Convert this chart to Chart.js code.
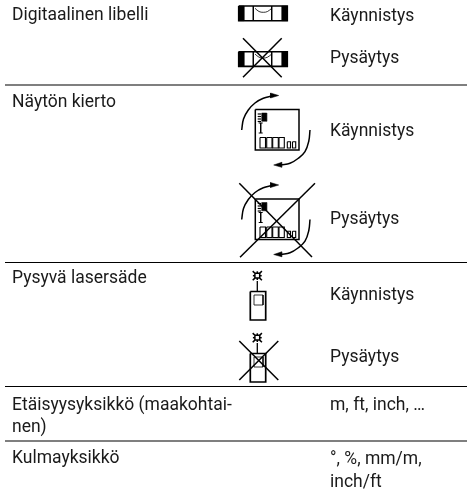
<!DOCTYPE html>
<html>
<head>
<meta charset="utf-8">
<title>Toiminnot</title>
<script src="https://cdn.jsdelivr.net/npm/chart.js"></script>
<style>
    html, body { margin: 0; padding: 0; background: #fff; }
    canvas { display: block; }
</style>
</head>
<body>
<canvas id="tableChart" width="467" height="492"></canvas>
<script>
// Table text
const featureLabels = ['Digitaalinen libelli', 'Näytön kierto', 'Pysyvä lasersäde', 'Etäisyysyksikkö (maakohtai-', 'nen)', 'Kulmayksikkö'];
const featureBaselines = [20, 106.7, 283, 409.5, 432, 463];
const stateLabels = ['Käynnistys', 'Pysäytys', 'Käynnistys', 'Pysäytys', 'Käynnistys', 'Pysäytys', 'm, ft, inch, …', '°, %, mm/m,', 'inch/ft'];
const stateBaselines = [21.3, 63.3, 136, 224, 300, 362, 409.5, 464, 487.3];
const featureColumn = 12;
const stateColumn = 330;
const rulePositions = [85, 262.5, 386.5, 441];
const ruleExtent = [5, 467];

// Icon parts, in the same units as the axes
const levelOutline = [238.7, 6, 287.3, 20.7];
const levelBlocks = [[238.7, 6, 244, 20.7], [281.7, 6, 287.3, 20.7]];
const levelDividers = [253.3, 271.7];
const levelBubble = [[255, 8.3], [259, 11.5], [263.3, 12.3], [267.5, 11.5], [271.7, 8.3]];
const levelOffOffset = 45.7;
const levelCross = [[[243, 38.3], [281.7, 77.3]], [[281.7, 38.3], [243, 77.3]]];

const screenOutline = [255.3, 109.5, 299, 150];
const screenDigits = [[260, 137.5, 265.5, 148], [266.7, 137.5, 272, 148], [272.7, 137.5, 278.3, 148], [279, 137.5, 284.3, 148], [287.3, 141.7, 290.5, 148], [292.5, 141.7, 295.7, 148]];
const screenBattery = [261.7, 113, 266.7, 121.3];
const screenDashes = [114, 116.5, 119, 121.5];
const screenCursor = [[[260.7, 123], [260.7, 133]], [[258.7, 123], [262.7, 123]], [[258.7, 133], [262.7, 133]]];
const arcUpper = [[241.7, 130], [243.5, 119], [248.3, 110], [255, 103], [263.3, 98.3], [272, 96]];
const arrowUpper = [[278.7, 95.5], [270.5, 93], [270.5, 98]];
const arcLower = [[310, 130], [308.8, 141], [305, 151.7], [298, 158.5], [290, 163.3], [281, 164.8]];
const arrowLower = [[273.7, 165], [281.7, 162.3], [281.7, 167.3]];
const rotateOffOffset = 89.5;
const rotateCross = [[[239.3, 183.3], [312, 257]], [[315, 183.3], [240, 257.3]]];

const deviceStarCentre = [257.3, 275.7];
const deviceStarBox = [-2.4, -2.4, 2.4, 2.4];
const deviceStarRays = [[[-2.4, -2.4], [-4.6, -4.6]], [[2.4, -2.4], [4.6, -4.6]], [[-2.4, 2.4], [-4.6, 4.6]], [[2.4, 2.4], [4.6, 4.6]], [[0, -2.4], [0, -4.4]], [[0, 2.4], [0, 4.4]], [[-2.4, 0], [-4.4, 0]], [[2.4, 0], [4.4, 0]]];
const deviceStem = [[257.3, 281], [257.3, 291.5]];
const deviceBody = [250.3, 291.5, 265.7, 320];
const deviceWindow = [254, 295, 263, 305];
const deviceOffOffset = 62;
const deviceCross = [[[239.3, 341], [278.3, 380]], [[278.3, 341], [239.3, 380]]];

function toPoints(pairs, dy = 0) {
    return pairs.map(([x, y]) => ({ x: x, y: y + dy }));
}

function rectPairs([x0, y0, x1, y1]) {
    return [[x0, y0], [x1, y0], [x1, y1], [x0, y1], [x0, y0]];
}

function stroke(pairs, dy, width, tension = 0) {
    return {
        data: toPoints(pairs, dy),
        showLine: true,
        borderColor: '#000',
        borderWidth: width,
        pointRadius: 0,
        tension: tension,
        fill: false,
        clip: false
    };
}

function solid(pairs, dy) {
    return {
        data: toPoints(pairs, dy),
        showLine: true,
        borderColor: '#000',
        backgroundColor: '#000',
        borderWidth: 0.5,
        pointRadius: 0,
        fill: 'shape',
        clip: false
    };
}

function levelIcon(dy) {
    const parts = [stroke(rectPairs(levelOutline), dy, 1.6)];
    levelBlocks.forEach(block => parts.push(solid(rectPairs(block), dy)));
    levelDividers.forEach(x => parts.push(stroke([[x, levelOutline[1]], [x, levelOutline[3]]], dy, 1)));
    parts.push(stroke(levelBubble, dy, 0.8, 0.4));
    return parts;
}

function rotateIcon(dy) {
    const parts = [stroke(rectPairs(screenOutline), dy, 1.5)];
    screenDigits.forEach(digit => parts.push(stroke(rectPairs(digit), dy, 1.1)));
    parts.push(solid(rectPairs(screenBattery), dy));
    screenDashes.forEach(y => parts.push(stroke([[257.7, y], [261, y]], dy, 1.2)));
    screenCursor.forEach(line => parts.push(stroke(line, dy, 1)));
    parts.push(stroke(arcUpper, dy, 1.5, 0.4));
    parts.push(solid(arrowUpper.concat([arrowUpper[0]]), dy));
    parts.push(stroke(arcLower, dy, 1.5, 0.4));
    parts.push(solid(arrowLower.concat([arrowLower[0]]), dy));
    return parts;
}

function deviceIcon(dy) {
    const [cx, cy] = deviceStarCentre;
    const box = [cx + deviceStarBox[0], cy + deviceStarBox[1], cx + deviceStarBox[2], cy + deviceStarBox[3]];
    const parts = [stroke(rectPairs(box), dy, 1.5)];
    deviceStarRays.forEach(ray => {
        parts.push(stroke(ray.map(([x, y]) => [cx + x, cy + y]), dy, 1.5));
    });
    parts.push(stroke(deviceStem, dy, 1.3));
    parts.push(stroke(rectPairs(deviceBody), dy, 1.7));
    parts.push(stroke(rectPairs(deviceWindow), dy, 0.8));
    return parts;
}

function crossLines(lines) {
    return lines.map(line => stroke(line, 0, 1.5));
}

const datasets = [
    ...rulePositions.map(y => stroke([[ruleExtent[0], y], [ruleExtent[1], y]], 0, 1.2)),
    ...levelIcon(0),
    ...levelIcon(levelOffOffset),
    ...crossLines(levelCross),
    ...rotateIcon(0),
    ...rotateIcon(rotateOffOffset),
    ...crossLines(rotateCross),
    ...deviceIcon(0),
    ...deviceIcon(deviceOffOffset),
    ...crossLines(deviceCross)
];

// Table text is drawn through the same scales as the icons
const tableText = {
    id: 'tableText',
    afterDatasetsDraw(chart) {
        const { ctx, scales } = chart;
        ctx.save();
        ctx.fillStyle = '#1a1a1a';
        ctx.font = '17.5px Roboto';
        ctx.textBaseline = 'alphabetic';
        featureLabels.forEach((label, i) => {
            ctx.fillText(label, scales.x.getPixelForValue(featureColumn), scales.y.getPixelForValue(featureBaselines[i]));
        });
        stateLabels.forEach((label, i) => {
            ctx.fillText(label, scales.x.getPixelForValue(stateColumn), scales.y.getPixelForValue(stateBaselines[i]));
        });
        ctx.restore();
    }
};

new Chart(document.getElementById('tableChart').getContext('2d'), {
    type: 'scatter',
    data: { datasets: datasets },
    options: {
        responsive: false,
        animation: false,
        layout: { padding: 0, autoPadding: false },
        plugins: {
            legend: { display: false },
            tooltip: { enabled: false }
        },
        scales: {
            x: { type: 'linear', display: false, min: 0, max: 467 },
            y: { type: 'linear', display: false, min: 0, max: 492, reverse: true }
        }
    },
    plugins: [tableText]
});
</script>
</body>
</html>
